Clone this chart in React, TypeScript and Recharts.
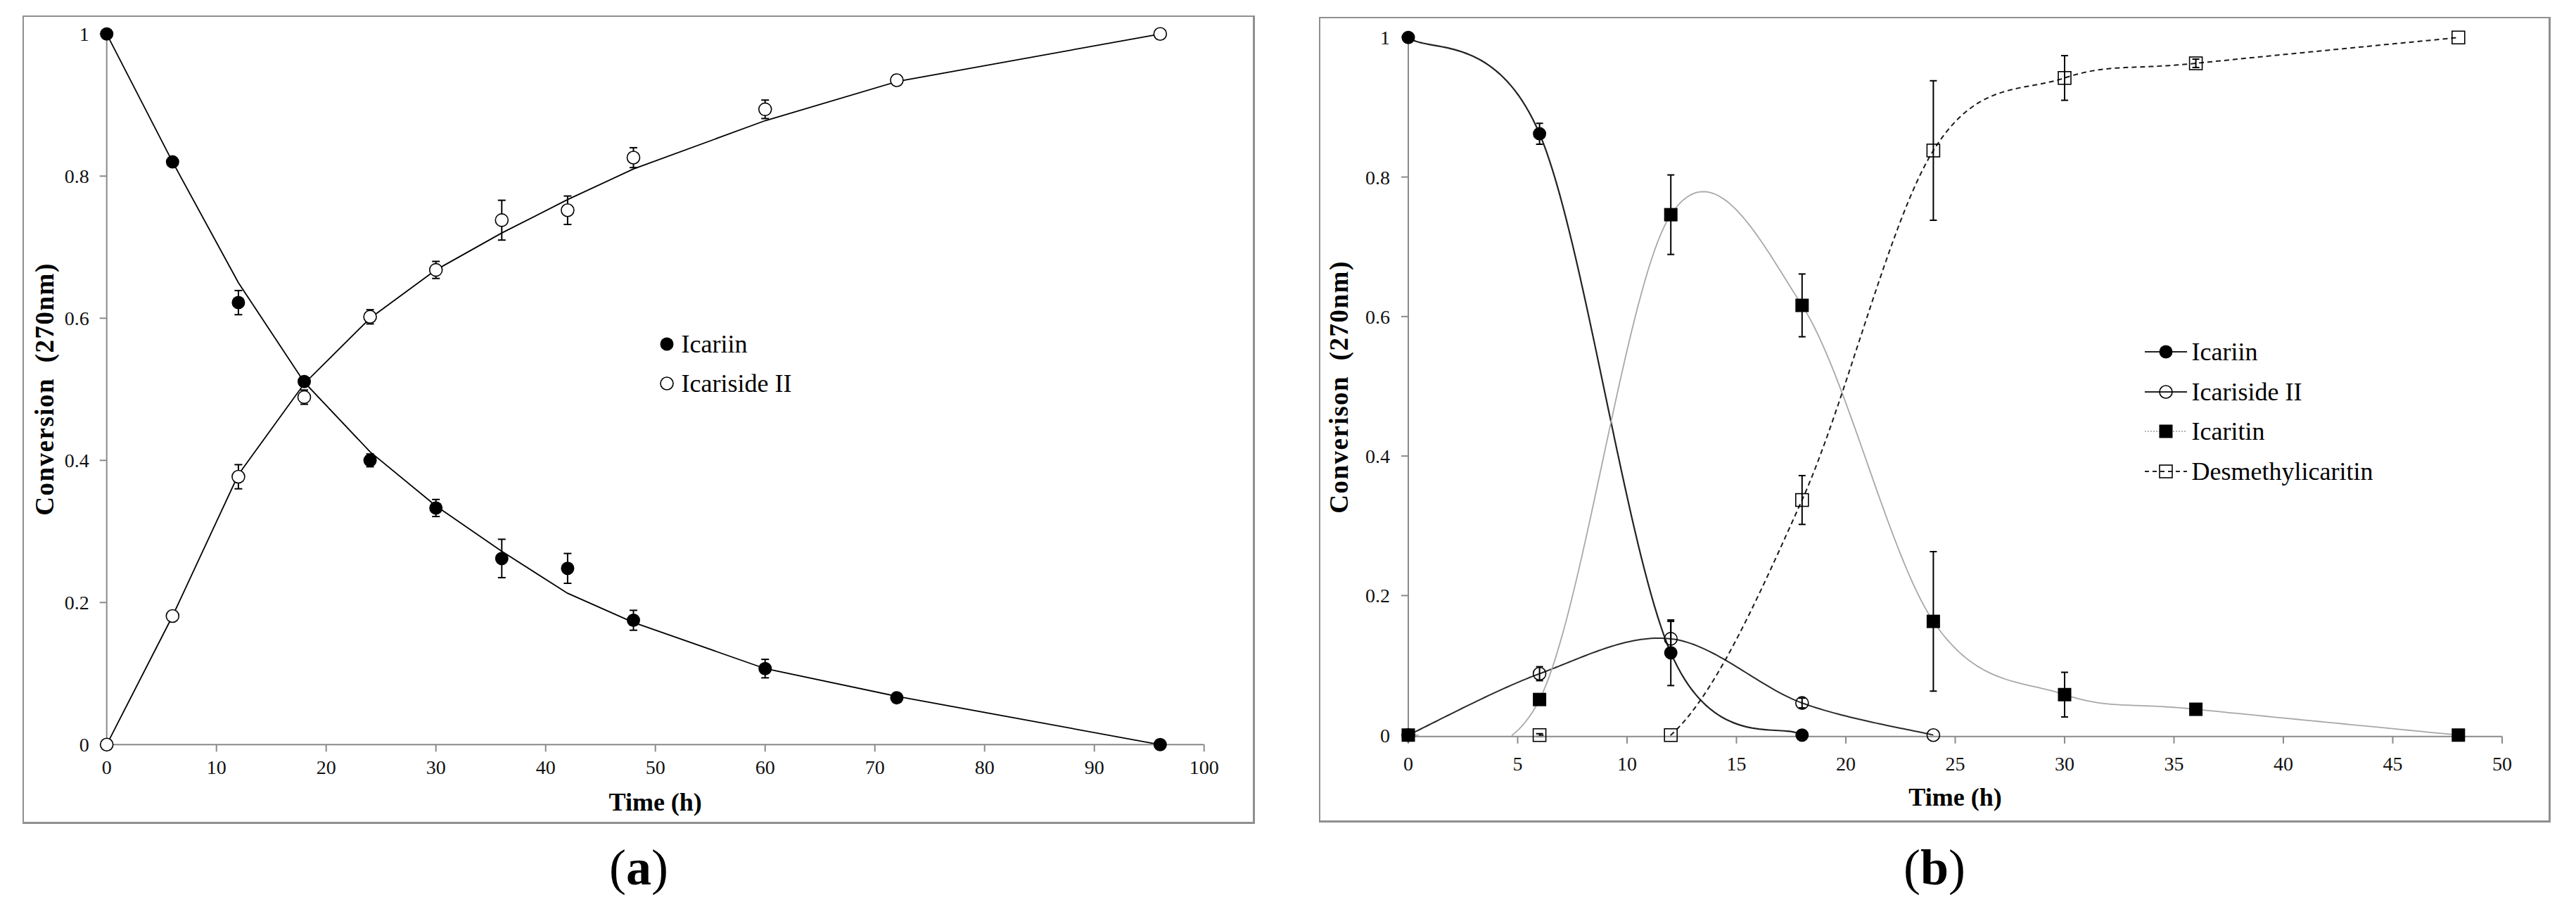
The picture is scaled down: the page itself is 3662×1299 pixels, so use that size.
import React from "react";
import { ComposedChart, Line, XAxis, YAxis, ErrorBar, Legend } from "recharts";

const SERIF = "'Liberation Serif', 'Times New Roman', Times, serif";
const AXIS_GREY = "#8a8a8a";

// ---------- panel (a): icariin -> icariside II ----------
const hoursA = [0, 6, 12, 18, 24, 30, 36, 42, 48, 60, 72, 96];
const icariinA = [1, 0.82, 0.622, 0.511, 0.4, 0.333, 0.262, 0.248, 0.175, 0.107, 0.066, 0];
const icariinSdA = [0, 0, 0.017, 0.006, 0.009, 0.012, 0.027, 0.021, 0.014, 0.013, 0.004, 0];
const icariinFitA = [1, 0.82, 0.65, 0.51, 0.412, 0.336, 0.272, 0.213, 0.172, 0.107, 0.068, 0];
const icarisideA = [0, 0.181, 0.377, 0.489, 0.602, 0.668, 0.738, 0.752, 0.826, 0.894, 0.935, 1];
const icarisideSdA = [0, 0.005, 0.017, 0.01, 0.01, 0.012, 0.028, 0.02, 0.014, 0.013, 0.007, 0];
const icarisideFitA = [0, 0.181, 0.38, 0.508, 0.6, 0.668, 0.72, 0.767, 0.81, 0.878, 0.933, 1];

// ---------- panel (b): four compounds ----------
const hoursB = [0, 6, 12, 18, 24, 30, 36, 48];
const icariinB = [1, 0.862, 0.118, 0, null, null, null, null];
const icariinSdB = [0, 0.015, 0.047, 0, null, null, null, null];
const icarisideB = [0, 0.088, 0.138, 0.046, 0, null, null, null];
const icarisideSdB = [0, 0.01, 0.025, 0.007, 0, null, null, null];
const icaritinB = [0, 0.051, 0.746, 0.616, 0.163, 0.058, 0.037, 0];
const icaritinSdB = [0, 0, 0.057, 0.045, 0.1, 0.032, 0.004, 0];
const desmethylB = [null, 0, 0, 0.337, 0.838, 0.942, 0.963, 1];
const desmethylSdB = [null, 0.002, 0, 0.035, 0.1, 0.032, 0.006, 0];

const namesA = ["Icariin", "Icariside II"];
const namesB = ["Icariin", "Icariside II", "Icaritin", "Desmethylicaritin"];

const xTicksA = [0, 10, 20, 30, 40, 50, 60, 70, 80, 90, 100];
const xTicksB = [0, 5, 10, 15, 20, 25, 30, 35, 40, 45, 50];
const yTicks = [0, 0.2, 0.4, 0.6, 0.8, 1];

const rowsA = hoursA.map((h, i) => ({
  h,
  icariin: icariinA[i],
  icariinSd: icariinSdA[i] || null,
  icariinFit: icariinFitA[i],
  icariside: icarisideA[i],
  icarisideSd: icarisideSdA[i] || null,
  icarisideFit: icarisideFitA[i],
}));

const rowsB = hoursB.map((h, i) => ({
  h,
  icariin: icariinB[i],
  icariinSd: icariinSdB[i] || null,
  icariside: icarisideB[i],
  icarisideSd: icarisideSdB[i] || null,
  icaritin: icaritinB[i],
  icaritinSd: icaritinSdB[i] || null,
  desmethyl: desmethylB[i],
  desmethylSd: desmethylSdB[i] || null,
}));

type Shape = "disc" | "ring" | "block" | "box";

const drawMarker = (shape: Shape, cx: number, cy: number, hollow: string, key?: any) => {
  if (shape === "disc") return <circle key={key} cx={cx} cy={cy} r={9.5} fill="#000" />;
  if (shape === "ring")
    return <circle key={key} cx={cx} cy={cy} r={9} fill={hollow} stroke="#000" strokeWidth={1.6} />;
  if (shape === "block") return <rect key={key} x={cx - 9.5} y={cy - 9.5} width={19} height={19} fill="#000" />;
  return <rect key={key} x={cx - 9} y={cy - 9} width={18} height={18} fill={hollow} stroke="#000" strokeWidth={1.6} />;
};

const dotOf = (shape: Shape, hollow = "none") => (p: any) =>
  p.cx == null || p.cy == null || p.value == null ? (
    <g key={p.index} />
  ) : (
    drawMarker(shape, p.cx, p.cy, hollow, p.index)
  );

// excel-like smoothed line (catmull-rom beziers); whatever falls under the
// lowest data point (the 0 baseline) is cut away, like excel's plot-area clip
const excelSmooth = (ctx: any) => {
  let pts: number[][] = [];
  return {
    areaStart() {},
    areaEnd() {},
    lineStart() {
      pts = [];
    },
    point(x: number, y: number) {
      pts.push([+x, +y]);
    },
    lineEnd() {
      if (!pts.length) return;
      const floor = Math.max(...pts.map((p) => p[1])) + 0.5;
      const samples: number[][] = [pts[0]];
      for (let i = 0; i < pts.length - 1; i++) {
        const p0 = pts[i - 1] || pts[i];
        const p1 = pts[i];
        const p2 = pts[i + 1];
        const p3 = pts[i + 2] || p2;
        const c1 = [p1[0] + (p2[0] - p0[0]) / 6, p1[1] + (p2[1] - p0[1]) / 6];
        const c2 = [p2[0] - (p3[0] - p1[0]) / 6, p2[1] - (p3[1] - p1[1]) / 6];
        for (let s = 1; s <= 40; s++) {
          const t = s / 40;
          const u = 1 - t;
          samples.push([
            u * u * u * p1[0] + 3 * u * u * t * c1[0] + 3 * u * t * t * c2[0] + t * t * t * p2[0],
            u * u * u * p1[1] + 3 * u * u * t * c1[1] + 3 * u * t * t * c2[1] + t * t * t * p2[1],
          ]);
        }
      }
      let prev = samples[0];
      if (prev[1] <= floor) ctx.moveTo(prev[0], prev[1]);
      for (let k = 1; k < samples.length; k++) {
        const cur = samples[k];
        const pIn = prev[1] <= floor;
        const cIn = cur[1] <= floor;
        if (pIn && cIn) {
          ctx.lineTo(cur[0], cur[1]);
        } else if (pIn !== cIn) {
          const f = (floor - prev[1]) / (cur[1] - prev[1]);
          const xc = prev[0] + f * (cur[0] - prev[0]);
          if (pIn) {
            ctx.lineTo(xc, floor);
          } else {
            ctx.moveTo(xc, floor);
            ctx.lineTo(cur[0], cur[1]);
          }
        }
        prev = cur;
      }
    },
  };
};

const tickStyle = { fill: "#111", fontSize: 28, fontFamily: SERIF };
const axisLine = { stroke: AXIS_GREY, strokeWidth: 2 };

type LegendRow = { name: string; shape: Shape; hollow: string; stroke?: string; width?: number; dash?: string };

const LegendList = ({ rows, sample, rowH, gap }: { rows: LegendRow[]; sample: number; rowH: number; gap: number }) => (
  <div style={{ fontFamily: SERIF, fontSize: 36, color: "#000" }}>
    {rows.map((r) => (
      <div key={r.name} style={{ display: "flex", alignItems: "center", height: rowH, whiteSpace: "nowrap" }}>
        <svg width={sample} height={30} style={{ display: "block", overflow: "visible" }}>
          {r.stroke && (
            <line x1={0} x2={sample} y1={15} y2={15} stroke={r.stroke} strokeWidth={r.width} strokeDasharray={r.dash} />
          )}
          {drawMarker(r.shape, sample / 2, 15, r.hollow)}
        </svg>
        <span style={{ marginLeft: gap, lineHeight: 1 }}>{r.name}</span>
      </div>
    ))}
  </div>
);

const legendA: LegendRow[] = [
  { name: namesA[0], shape: "disc", hollow: "#fff" },
  { name: namesA[1], shape: "ring", hollow: "#fff" },
];

const legendB: LegendRow[] = [
  { name: namesB[0], shape: "disc", hollow: "none", stroke: "#222", width: 2 },
  { name: namesB[1], shape: "ring", hollow: "none", stroke: "#222", width: 2 },
  { name: namesB[2], shape: "block", hollow: "none", stroke: "#9a9a9a", width: 1.6, dash: "2 2" },
  { name: namesB[3], shape: "box", hollow: "none", stroke: "#222", width: 2, dash: "6 5" },
];

const abs = (left: number, top: number, extra: React.CSSProperties = {}): React.CSSProperties => ({
  position: "absolute",
  left,
  top,
  ...extra,
});

const Title = ({ x, y, text, rotate }: { x: number; y: number; text: string; rotate?: boolean }) => (
  <div
    style={abs(x, y, {
      transform: `translate(-50%, -50%)${rotate ? " rotate(-90deg)" : ""}`,
      fontFamily: SERIF,
      fontWeight: "bold",
      fontSize: rotate ? 37 : 36,
      letterSpacing: rotate ? 1.5 : 0,
      lineHeight: 1,
      whiteSpace: "pre",
      color: "#000",
    })}
  >
    {text}
  </div>
);

const Caption = ({ x, y, letter }: { x: number; y: number; letter: string }) => (
  <div
    style={abs(x, y, {
      transform: "translate(-50%, -50%)",
      fontFamily: SERIF,
      fontSize: 72,
      lineHeight: 1,
      color: "#000",
    })}
  >
    (<b>{letter}</b>)
  </div>
);

const Frame = ({ left, top, width, height }: { left: number; top: number; width: number; height: number }) => (
  <div
    style={abs(left, top, {
      width,
      height,
      boxSizing: "border-box",
      borderStyle: "solid",
      borderColor: "#8f8f8f",
      borderWidth: "2px 3px 3px 2px",
    })}
  />
);

const PanelA = () => (
  <>
    <Frame left={32} top={22} width={1752} height={1149} />
    <div style={abs(33, 23)}>
      <ComposedChart width={1750} height={1147} data={rowsA} margin={{ top: 25.3, right: 71.3, bottom: 0, left: 0 }}>
        <XAxis
          type="number"
          dataKey="h"
          domain={[0, 100]}
          ticks={xTicksA}
          interval={0}
          height={111.7}
          tickSize={10}
          tickMargin={12}
          tick={tickStyle}
          tickLine={axisLine}
          axisLine={axisLine}
        />
        <YAxis
          type="number"
          domain={[0, 1]}
          ticks={yTicks}
          interval={0}
          width={118.7}
          tickSize={10}
          tickMargin={15}
          tick={tickStyle}
          tickLine={axisLine}
          axisLine={axisLine}
        />
        <Line dataKey="icariinFit" type="linear" stroke="#000" strokeWidth={1.8} dot={false} activeDot={false} isAnimationActive={false} />
        <Line dataKey="icarisideFit" type="linear" stroke="#000" strokeWidth={1.8} dot={false} activeDot={false} isAnimationActive={false} />
        <Line dataKey="icariin" stroke="none" dot={dotOf("disc")} activeDot={false} isAnimationActive={false} />
        <Line dataKey="icariside" stroke="none" dot={dotOf("ring", "#fff")} activeDot={false} isAnimationActive={false} />
        <Line dataKey="icariin" stroke="none" dot={false} activeDot={false} isAnimationActive={false}>
          <ErrorBar dataKey="icariinSd" direction="y" width={5.5} stroke="#000" strokeWidth={2} />
        </Line>
        <Line dataKey="icariside" stroke="none" dot={false} activeDot={false} isAnimationActive={false}>
          <ErrorBar dataKey="icarisideSd" direction="y" width={5.5} stroke="#000" strokeWidth={2} />
        </Line>
        <Legend
          layout="vertical"
          align="center"
          verticalAlign="middle"
          wrapperStyle={{ left: 902.5, top: 438 }}
          content={() => <LegendList rows={legendA} sample={24} rowH={56} gap={9} />}
        />
      </ComposedChart>
    </div>
    <Title x={63} y={553} text={"Conversion  (270nm)"} rotate />
    <Title x={931.7} y={1140} text="Time (h)" />
    <Caption x={908} y={1233} letter="a" />
  </>
);

const PanelB = () => (
  <>
    <Frame left={1875} top={24} width={1751} height={1145} />
    <div style={abs(1876, 25)}>
      <ComposedChart width={1749} height={1143} data={rowsB} margin={{ top: 28.3, right: 68, bottom: 0, left: 0 }}>
        <XAxis
          type="number"
          dataKey="h"
          domain={[0, 50]}
          ticks={xTicksB}
          interval={0}
          height={121.3}
          tickSize={10}
          tickMargin={18}
          tick={tickStyle}
          tickLine={axisLine}
          axisLine={axisLine}
        />
        <YAxis
          type="number"
          domain={[0, 1]}
          ticks={yTicks}
          interval={0}
          width={126}
          tickSize={10}
          tickMargin={16}
          tick={tickStyle}
          tickLine={axisLine}
          axisLine={axisLine}
        />
        <Line dataKey="icariin" type={excelSmooth as any} stroke="#222" strokeWidth={2.2} dot={dotOf("disc")} activeDot={false} isAnimationActive={false} />
        <Line dataKey="icariin" stroke="none" dot={false} activeDot={false} isAnimationActive={false}>
          <ErrorBar dataKey="icariinSd" direction="y" width={5} stroke="#000" strokeWidth={2} />
        </Line>
        <Line dataKey="icariside" type={excelSmooth as any} stroke="#2a2a2a" strokeWidth={2} dot={dotOf("ring")} activeDot={false} isAnimationActive={false} />
        <Line dataKey="icariside" stroke="none" dot={false} activeDot={false} isAnimationActive={false}>
          <ErrorBar dataKey="icarisideSd" direction="y" width={5} stroke="#000" strokeWidth={2} />
        </Line>
        <Line dataKey="icaritin" type={excelSmooth as any} stroke="#a8a8a8" strokeWidth={1.8} dot={dotOf("block")} activeDot={false} isAnimationActive={false} />
        <Line dataKey="icaritin" stroke="none" dot={false} activeDot={false} isAnimationActive={false}>
          <ErrorBar dataKey="icaritinSd" direction="y" width={5} stroke="#000" strokeWidth={2} />
        </Line>
        <Line dataKey="desmethyl" type={excelSmooth as any} stroke="#1a1a1a" strokeWidth={2} strokeDasharray="7 5" dot={dotOf("box")} activeDot={false} isAnimationActive={false} />
        <Line dataKey="desmethyl" stroke="none" dot={false} activeDot={false} isAnimationActive={false}>
          <ErrorBar dataKey="desmethylSd" direction="y" width={5} stroke="#000" strokeWidth={2} />
        </Line>
        <Legend
          layout="vertical"
          align="center"
          verticalAlign="middle"
          wrapperStyle={{ left: 1172.5, top: 446.6 }}
          content={() => <LegendList rows={legendB} sample={60} rowH={56.7} gap={7} />}
        />
      </ComposedChart>
    </div>
    <Title x={1903} y={550} text={"Converison  (270nm)"} rotate />
    <Title x={2779.5} y={1133} text="Time (h)" />
    <Caption x={2750} y={1233} letter="b" />
  </>
);

export default function App() {
  return (
    <div style={abs(0, 0, { width: 3662, height: 1299, background: "#fff", overflow: "hidden" })}>
      <PanelA />
      <PanelB />
    </div>
  );
}
